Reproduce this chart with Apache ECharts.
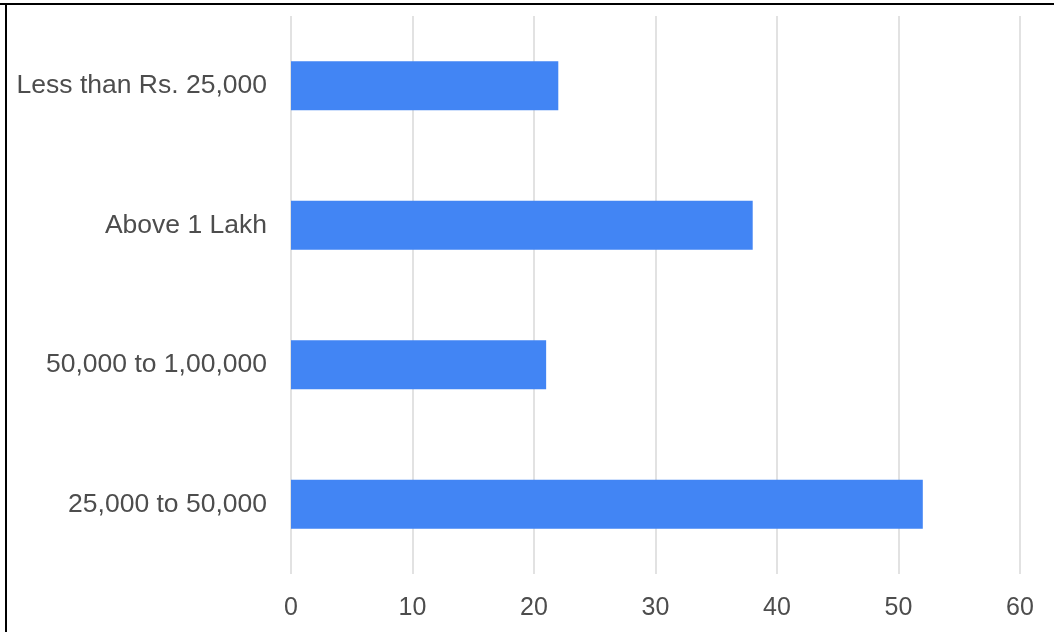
<!DOCTYPE html>
<html>
<head>
<meta charset="utf-8">
<script src="https://cdn.jsdelivr.net/npm/echarts@6/dist/echarts.min.js"></script>
<style>
  html, body { margin: 0; padding: 0; background: #fff; }
  #chart { width: 1054px; height: 632px; }
</style>
</head>
<body>
<div id="chart"></div>
<script>
// Income groups, listed top to bottom
const categories = ['Less than Rs. 25,000', 'Above 1 Lakh', '50,000 to 1,00,000', '25,000 to 50,000'];
const counts = [22, 38, 21, 52];
const axisMin = 0;
const axisMax = 60;
const axisStep = 10;

const chart = echarts.init(document.getElementById('chart'), null, { renderer: 'canvas' });

const fontFamily = '"Liberation Sans", Arial, sans-serif';
const textColor = '#4d4d4d';

chart.setOption({
  animation: false,
  backgroundColor: '#ffffff',
  grid: { left: 291, right: 34, top: 16, bottom: 58, containLabel: false },
  xAxis: {
    type: 'value',
    min: axisMin,
    max: axisMax,
    interval: axisStep,
    axisLine: { show: false },
    axisTick: { show: false },
    axisLabel: { margin: 22, fontFamily: fontFamily, fontSize: 25, color: textColor },
    splitLine: { show: true, lineStyle: { color: '#d8d8d8', width: 1.5 } }
  },
  yAxis: {
    type: 'category',
    data: categories,
    inverse: true,
    axisLine: { show: false },
    axisTick: { show: false },
    axisLabel: { margin: 24, fontFamily: fontFamily, fontSize: 26.5, color: textColor },
    splitLine: { show: false }
  },
  series: [{
    type: 'bar',
    data: counts,
    barWidth: '35%',
    itemStyle: { color: '#4285f4' }
  }],
  graphic: [
    { type: 'line', shape: { x1: 0, y1: 4, x2: 1054, y2: 4 }, style: { stroke: '#000', lineWidth: 2 } },
    { type: 'line', shape: { x1: 6, y1: 4, x2: 6, y2: 632 }, style: { stroke: '#000', lineWidth: 2 } }
  ]
});
</script>
</body>
</html>
